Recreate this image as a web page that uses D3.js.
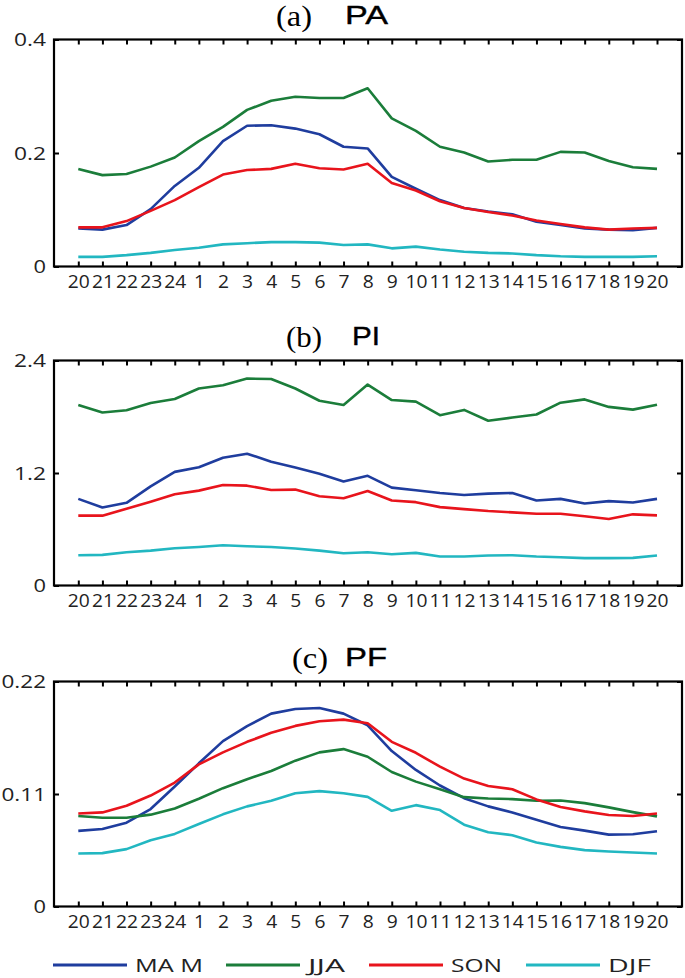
<!DOCTYPE html>
<html>
<head>
<meta charset="utf-8">
<script src="https://cdn.jsdelivr.net/npm/d3@7"></script>
<style>
  body { margin: 0; background: #fff; }
  svg { display: block; }
</style>
</head>
<body>
<svg width="685" height="978"></svg>
<script>
// hour labels along x (20h of previous day to 20h)
const hours = ['20', '21', '22', '23', '24', '1', '2', '3', '4', '5', '6', '7', '8', '9', '10',
  '11', '12', '13', '14', '15', '16', '17', '18', '19', '20'];

const seasons = ['MA M', 'JJA', 'SON', 'DJF'];

// (a) PA
const paMAM = [0.067, 0.065, 0.073, 0.101, 0.142, 0.174, 0.221, 0.248, 0.249, 0.243, 0.233, 0.211, 0.208,
  0.158, 0.137, 0.117, 0.103, 0.097, 0.092, 0.079, 0.073, 0.067, 0.065, 0.064, 0.068];
const paJJA = [0.172, 0.161, 0.163, 0.176, 0.192, 0.221, 0.246, 0.276, 0.292, 0.299, 0.297, 0.297, 0.314,
  0.261, 0.239, 0.211, 0.201, 0.185, 0.188, 0.188, 0.202, 0.201, 0.186, 0.175, 0.172];
const paSON = [0.069, 0.069, 0.080, 0.098, 0.117, 0.140, 0.162, 0.170, 0.172, 0.181, 0.173, 0.171, 0.181,
  0.147, 0.134, 0.115, 0.103, 0.096, 0.090, 0.081, 0.075, 0.069, 0.065, 0.067, 0.068];
const paDJF = [0.017, 0.017, 0.020, 0.024, 0.029, 0.033, 0.039, 0.041, 0.043, 0.043, 0.042, 0.038, 0.039,
  0.032, 0.035, 0.030, 0.026, 0.024, 0.023, 0.020, 0.018, 0.017, 0.017, 0.017, 0.018];

// (b) PI
const piMAM = [0.924, 0.833, 0.882, 1.058, 1.212, 1.261, 1.363, 1.406, 1.321, 1.258, 1.191, 1.110, 1.170,
  1.044, 1.016, 0.987, 0.966, 0.980, 0.987, 0.907, 0.924, 0.875, 0.900, 0.886, 0.924];
const piJJA = [1.926, 1.845, 1.869, 1.947, 1.989, 2.101, 2.136, 2.207, 2.203, 2.101, 1.971, 1.926, 2.143,
  1.978, 1.961, 1.817, 1.873, 1.757, 1.792, 1.824, 1.950, 1.985, 1.905, 1.876, 1.929];
const piSON = [0.745, 0.745, 0.819, 0.893, 0.973, 1.012, 1.072, 1.065, 1.019, 1.023, 0.952, 0.931, 1.008,
  0.907, 0.889, 0.836, 0.815, 0.794, 0.780, 0.766, 0.766, 0.738, 0.710, 0.759, 0.748];
const piDJF = [0.323, 0.327, 0.355, 0.372, 0.397, 0.411, 0.429, 0.418, 0.411, 0.394, 0.372, 0.344, 0.355,
  0.334, 0.348, 0.309, 0.309, 0.320, 0.323, 0.309, 0.302, 0.292, 0.292, 0.295, 0.320];

// (c) PF
const pfMAM = [0.0739, 0.0758, 0.0820, 0.0953, 0.1173, 0.1400, 0.1617, 0.1763, 0.1886, 0.1931, 0.1941, 0.1886, 0.1772,
  0.1520, 0.1335, 0.1183, 0.1059, 0.0979, 0.0920, 0.0849, 0.0778, 0.0742, 0.0703, 0.0706, 0.0735];
const pfJJA = [0.0885, 0.0868, 0.0868, 0.0898, 0.0959, 0.1053, 0.1157, 0.1244, 0.1325, 0.1426, 0.1507, 0.1539, 0.1464,
  0.1315, 0.1221, 0.1147, 0.1069, 0.1056, 0.1050, 0.1034, 0.1037, 0.1011, 0.0969, 0.0923, 0.0881];
const pfSON = [0.0910, 0.0920, 0.0985, 0.1085, 0.1212, 0.1390, 0.1507, 0.1610, 0.1698, 0.1766, 0.1811, 0.1827, 0.1792,
  0.1610, 0.1503, 0.1367, 0.1251, 0.1179, 0.1147, 0.1047, 0.0972, 0.0930, 0.0894, 0.0885, 0.0910];
const pfDJF = [0.0518, 0.0522, 0.0561, 0.0648, 0.0710, 0.0807, 0.0901, 0.0979, 0.1034, 0.1108, 0.1128, 0.1108, 0.1072,
  0.0936, 0.0991, 0.0943, 0.0800, 0.0726, 0.0697, 0.0625, 0.0583, 0.0551, 0.0538, 0.0528, 0.0518];

const yTicksA = [0, 0.2, 0.4];
const yTicksB = [0, 1.2, 2.4];
const yTicksC = [0, 0.11, 0.22];

const colors = ['#1f3d9e', '#1b7d3a', '#e8141c', '#22b7c1'];

const panels = [
  { tag: '(a)', name: 'PA', series: [paMAM, paJJA, paSON, paDJF], ticks: yTicksA, top: 39.5, bottom: 266.5, tagX: 276, nameX: 345, nameW: 43 },
  { tag: '(b)', name: 'PI', series: [piMAM, piJJA, piSON, piDJF], ticks: yTicksB, top: 360.5, bottom: 585.5, tagX: 286, nameX: 352, nameW: 28 },
  { tag: '(c)', name: 'PF', series: [pfMAM, pfJJA, pfSON, pfDJF], ticks: yTicksC, top: 681.5, bottom: 906.5, tagX: 292, nameX: 345, nameW: 42 }
];

const svg = d3.select('svg');
const left = 54, right = 682;

// the labels in the figure are drawn wide, so stretch them a bit
const labelWidth = (s, dw, pw) => s.split('').reduce((a, c) => a + (c === '.' ? pw : dw), 0);

const x = d3.scalePoint()
  .domain(d3.range(hours.length))
  .range([78.3, 657]);

panels.forEach((p) => {
  const y = d3.scaleLinear()
    .domain([0, p.ticks[p.ticks.length - 1]])
    .range([p.bottom, p.top]);

  const g = svg.append('g');

  // lines
  const line = d3.line()
    .x((d, i) => x(i))
    .y((d) => y(d));

  p.series.forEach((s, k) => {
    g.append('path')
      .datum(s)
      .attr('d', line)
      .attr('fill', 'none')
      .attr('stroke', colors[k])
      .attr('stroke-width', 2.6)
      .attr('stroke-linejoin', 'round');
  });

  // bottom axis, ticks pointing inward
  const xAxis = d3.axisBottom(x).tickSize(-5).tickPadding(0).tickFormat((i) => hours[i]);
  const gx = g.append('g').attr('transform', `translate(0,${p.bottom})`).call(xAxis);
  gx.select('.domain').remove();
  gx.selectAll('.tick line').attr('stroke', '#000').attr('stroke-width', 2);
  gx.selectAll('.tick text')
    .attr('y', 21)
    .attr('dy', 0)
    .attr('fill', '#222')
    .attr('textLength', (i) => labelWidth(hours[i], 11, 6))
    .attr('lengthAdjust', 'spacingAndGlyphs')
    .style('font-family', '"Open Sans", sans-serif')
    .style('font-size', '18px');

  // top axis ticks (mirror)
  const gxt = g.append('g').attr('transform', `translate(0,${p.top})`)
    .call(d3.axisTop(x).tickSize(-5).tickFormat(''));
  gxt.select('.domain').remove();
  gxt.selectAll('.tick line').attr('stroke', '#000').attr('stroke-width', 2);

  // left axis
  const fmt = (d) => (d === 0 ? '0' : String(d));
  const yAxis = d3.axisLeft(y).tickValues(p.ticks).tickSize(-5).tickPadding(8).tickFormat(fmt);
  const gy = g.append('g').attr('transform', `translate(${left},0)`).call(yAxis);
  gy.select('.domain').remove();
  gy.selectAll('.tick line').attr('stroke', '#000').attr('stroke-width', 2);
  gy.selectAll('.tick text')
    .attr('fill', '#222')
    .attr('textLength', (d) => labelWidth(fmt(d), 12.5, 7))
    .attr('lengthAdjust', 'spacingAndGlyphs')
    .style('font-family', '"Open Sans", sans-serif')
    .style('font-size', '19px');

  // right axis ticks
  const gyr = g.append('g').attr('transform', `translate(${right},0)`)
    .call(d3.axisRight(y).tickValues(p.ticks).tickSize(-5).tickFormat(''));
  gyr.select('.domain').remove();
  gyr.selectAll('.tick line').attr('stroke', '#000').attr('stroke-width', 2);

  // box
  g.append('rect')
    .attr('x', left)
    .attr('y', p.top)
    .attr('width', right - left)
    .attr('height', p.bottom - p.top)
    .attr('fill', 'none')
    .attr('stroke', '#000')
    .attr('stroke-width', 2.2);

  // title
  g.append('text')
    .attr('x', p.tagX)
    .attr('y', p.top - 14)
    .attr('font-family', '"Liberation Serif", serif')
    .attr('font-size', 30)
    .attr('textLength', 36)
    .attr('lengthAdjust', 'spacingAndGlyphs')
    .text(p.tag);
  g.append('text')
    .attr('x', p.nameX)
    .attr('y', p.top - 16)
    .attr('font-family', '"Liberation Sans", sans-serif')
    .attr('font-size', 26)
    .attr('stroke', '#000')
    .attr('stroke-width', 0.4)
    .attr('textLength', p.nameW)
    .attr('lengthAdjust', 'spacingAndGlyphs')
    .text(p.name);
});

// legend
const legX = [53, 226, 369, 526];
const legTextW = [68, 37, 51, 43];
const leg = svg.append('g').attr('transform', 'translate(0,965)');
seasons.forEach((s, k) => {
  leg.append('line')
    .attr('x1', legX[k])
    .attr('x2', legX[k] + 74)
    .attr('stroke', colors[k])
    .attr('stroke-width', 2.8);
  leg.append('text')
    .attr('x', legX[k] + 82)
    .attr('y', 6.5)
    .attr('font-family', '"Open Sans", sans-serif')
    .attr('font-size', 18)
    .attr('fill', '#222')
    .attr('textLength', legTextW[k])
    .attr('lengthAdjust', 'spacingAndGlyphs')
    .text(s);
});
</script>
</body>
</html>
